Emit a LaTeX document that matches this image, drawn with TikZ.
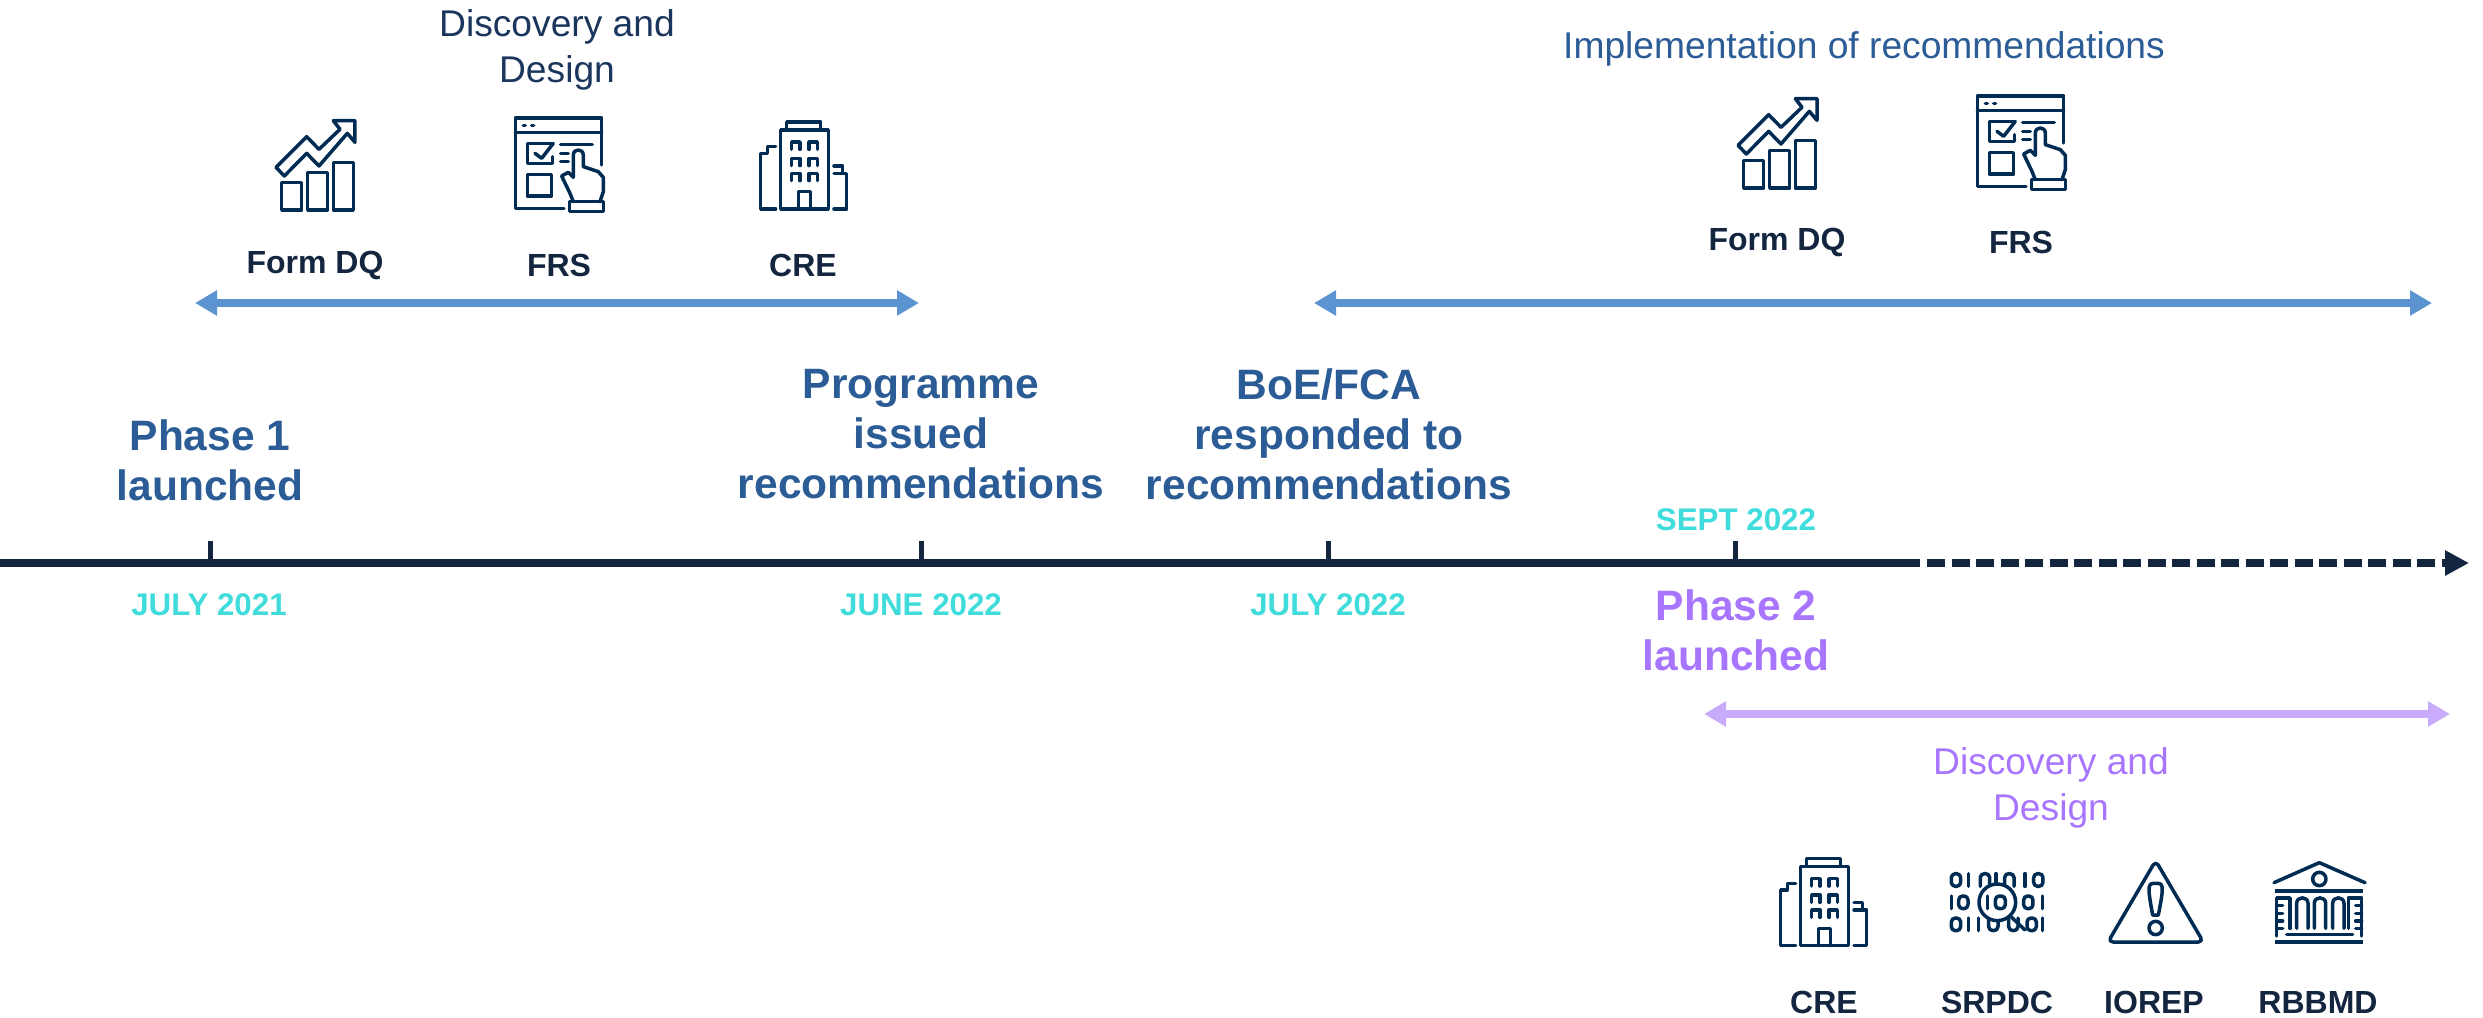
\documentclass[tikz,border=0pt]{standalone}
\usepackage{fontspec}
\setmainfont{Liberation Sans}
\usetikzlibrary{arrows.meta}
\definecolor{ink}{HTML}{14263F}
\definecolor{navy}{HTML}{1B365D}
\definecolor{iconc}{HTML}{002B52}
\definecolor{steel}{HTML}{2B5C96}
\definecolor{rangeblue}{HTML}{5B94D0}
\definecolor{rangepurple}{HTML}{C8ABFB}
\definecolor{purp}{HTML}{A875FF}
\definecolor{teal}{HTML}{40DCDC}
\tikzset{
  iconline/.style={draw=iconc,line width=3.5pt,line join=round,line cap=round},
  chartpic/.pic={\begin{scope}[x=0.3333pt,y=-0.3333pt,iconline]
    \draw (125,277) rectangle (185,360);
    \draw (203,247) rectangle (263,360);
    \draw (280,217) rectangle (340,360);
    \draw (108,232)--(200,140)--(237,178)--(300,118)--(280,92)--(345,92)--(345,157)--(322,130)--(237,228)--(200,190)--(133,258)--cycle;
  \end{scope}},
  formpic/.pic={\begin{scope}[x=0.3333pt,y=-0.3333pt,iconline]
    \draw (972,355)--(826,355)--(826,84)--(1085,84)--(1085,225);
    \draw (826,127)--(1085,127);
    \draw (850,106)--(856,106) (875,106)--(881,106);
    \draw (937,160)--(862,160)--(862,220)--(937,220)--(937,200);
    \draw (885,190)--(905,205)--(940,160);
    \draw (962,163)--(1057,163) (962,190)--(985,190) (962,215)--(985,215);
    \draw (862,253) rectangle (935,318);
    \draw (1000,335)--(990,310)--(965,258)--(985,247)--(1000,262)--(1000,195) .. controls (1000,175) and (1030,175) .. (1030,195)--(1030,230)--(1075,245)--(1090,262)--(1090,305)--(1080,335);
    \draw (988,335) rectangle (1090,365);
  \end{scope}},
  towerpic/.pic={\begin{scope}[x=0.3333pt,y=-0.3333pt,iconline]
    \draw (320,118)--(320,96)--(422,96)--(422,118);
    \draw (302,120) rectangle (445,357);
    \foreach \wx in {335,387}{\foreach \wy in {156,205,250}{
      \draw (\wx,\wy+22)--(\wx,\wy)--(\wx+25,\wy)--(\wx+25,\wy+22);}}
    \draw (355,357)--(355,305)--(392,305)--(392,357);
    \draw (287,357)--(242,357)--(242,190)--(262,190)--(262,170)--(287,170);
    \draw (462,357)--(500,357)--(500,250)--(462,250);
    \draw (462,228)--(488,228)--(488,250);
  \end{scope}},
  datapic/.pic={\begin{scope}[x=0.3333pt,y=-0.3333pt,iconline]
    \foreach \gx/\gy in {588/120,835/120,610/187,805/187,588/253,815/253}{
      \draw[rounded corners=4pt] (\gx-14,\gy-19) rectangle (\gx+14,\gy+19);}
    \foreach \gx/\gy in {625/120,708/120,795/120,575/187,848/187,625/253,655/253,848/253}{
      \draw (\gx,\gy-19)--(\gx,\gy+19);}
    \foreach \gx in {675,748}{
      \draw (\gx-14,139)--(\gx-14,112) .. controls (\gx-14,97) and (\gx+14,97) .. (\gx+14,112)--(\gx+14,139);}
    \foreach \gx in {700,760}{
      \draw (\gx-14,234)--(\gx-14,260) .. controls (\gx-14,276) and (\gx+14,276) .. (\gx+14,260)--(\gx+14,234);}
    \draw[fill=white] (712,187) circle (55);
    \draw (683,168)--(683,206);
    \draw[rounded corners=4pt] (706,168) rectangle (736,206);
    \draw (755,232)--(795,270);
  \end{scope}},
  warnpic/.pic={\begin{scope}[x=0.3333pt,y=-0.3333pt,iconline]
    \draw[rounded corners=5pt] (197,62)--(340,306)--(54,306)--cycle;
    \draw (188,225) .. controls (170,130) and (175,130) .. (197,130) .. controls (219,130) and (224,130) .. (205,225)--cycle;
    \draw (197,264) circle (20);
  \end{scope}},
  bankpic/.pic={\begin{scope}[x=0.3333pt,y=-0.3333pt,iconline]
    \draw (552,128)--(688,68)--(825,128);
    \draw (688,117) circle (20);
    \draw[line cap=butt,line width=4pt] (555,152)--(820,152) (555,307)--(820,307);
    \draw (590,284)--(788,284);
    \draw (560,288)--(560,174)--(600,174)--(600,265);
    \draw (560,197)--(578,197) (560,220)--(578,220) (560,243)--(578,243) (560,265)--(578,265);
    \draw (815,288)--(815,174)--(775,174)--(775,265);
    \draw (815,197)--(797,197) (815,220)--(797,220) (815,243)--(797,243) (815,265)--(797,265);
    \foreach \ax in {620,673,728}{
      \draw (\ax,265)--(\ax,190) .. controls (\ax,168) and (\ax+34,168) .. (\ax+34,190)--(\ax+34,265);}
  \end{scope}},
  headline/.style={font=\fontsize{42.5}{50}\selectfont\bfseries,inner sep=0pt,align=center},
  datelab/.style={font=\fontsize{31.3}{36}\selectfont\bfseries,text=teal,inner sep=0pt},
  iconlab/.style={font=\fontsize{32}{38}\selectfont\bfseries,text=ink,inner sep=0pt},
  plainlab/.style={font=\fontsize{37.2}{46}\selectfont,inner sep=0pt,align=center},
  rangeblue line/.style={draw=rangeblue,line width=8pt,{Triangle[length=22pt,width=24pt]}-{Triangle[length=22pt,width=24pt]}},
  rangepurple line/.style={draw=rangepurple,line width=8pt,{Triangle[length=22pt,width=24pt]}-{Triangle[length=22pt,width=24pt]}},
  axisline/.style={draw=ink,line width=8pt},
  tickline/.style={draw=ink,line width=5pt},
}
\begin{document}
\begin{tikzpicture}[x=1pt,y=-1pt]
\useasboundingbox (0,0) rectangle (2483,1017);
% axis
\coordinate (axisL) at (0,563);
\coordinate (axisM) at (1920,563);
\coordinate (axisR) at (2469,563);
\draw[axisline] (axisL)--(axisM);
\draw[axisline,dash pattern=on 18pt off 6.5pt,-{Triangle[length=24pt,width=24pt]}] ([xshift=7pt]axisM)--(axisR);
\foreach \tn/\tx in {a/210,b/921,c/1328,d/1735}{
  \coordinate (tick\tn) at (\tx,563);
  \coordinate (top\tn) at (\tx,541);
  \draw[tickline] (tick\tn)--(top\tn);}
% range arrows
\coordinate (r1a) at (195,303); \coordinate (r1b) at (919,303);
\coordinate (r2a) at (1314,303); \coordinate (r2b) at (2432,303);
\coordinate (r3a) at (1704,714); \coordinate (r3b) at (2450,714);
\draw[rangeblue line] (r1a)--(r1b);
\draw[rangeblue line] (r2a)--(r2b);
\draw[rangepurple line] (r3a)--(r3b);
% headlines
\node[headline,text=steel] (h1) at (210,460) {Phase 1\\launched};
\node[headline,text=steel] (h2) at (921,434) {Programme\\issued\\recommendations};
\node[headline,text=steel] (h3) at (1329,434) {BoE/FCA\\responded to\\recommendations};
\node[headline,text=purp] (h4) at (1736,630) {Phase 2\\launched};
% dates
\node[datelab] (d1) at (209,605) {JULY 2021};
\node[datelab] (d2) at (921,605) {JUNE 2022};
\node[datelab] (d3) at (1328,605) {JULY 2022};
\node[datelab] (d4) at (1736,520) {SEPT 2022};
% plain labels
\node[plainlab,text=navy] (p1) at (557,50) {Discovery and\\Design};
\node[plainlab,text=steel] (p2) at (1864,49) {Implementation of recommendations};
\node[plainlab,text=purp] (p3) at (2051,788) {Discovery and\\Design};
% icon labels
\node[iconlab] (l1) at (315,265) {Form DQ};
\node[iconlab] (l2) at (559,265) {FRS};
\node[iconlab] (l3) at (803,265) {CRE};
\node[iconlab] (l4) at (1777,242) {Form DQ};
\node[iconlab] (l5) at (2021,242) {FRS};
\node[iconlab] (l6) at (1824,1002) {CRE};
\node[iconlab] (l7) at (1997,1002) {SRPDC};
\node[iconlab] (l8) at (2154,1002) {IOREP};
\node[iconlab] (l9) at (2318,1002) {RBBMD};
% icons
\pic at (240,90) {chartpic};
\pic at (240,90) {formpic};
\pic at (680,90) {towerpic};
\pic at (1702,68) {chartpic};
\pic at (1702,68) {formpic};
\pic at (1700,826.7) {towerpic};
\pic at (1760,840) {datapic};
\pic at (2090,840) {warnpic};
\pic at (2090,840) {bankpic};
\end{tikzpicture}
\end{document}
